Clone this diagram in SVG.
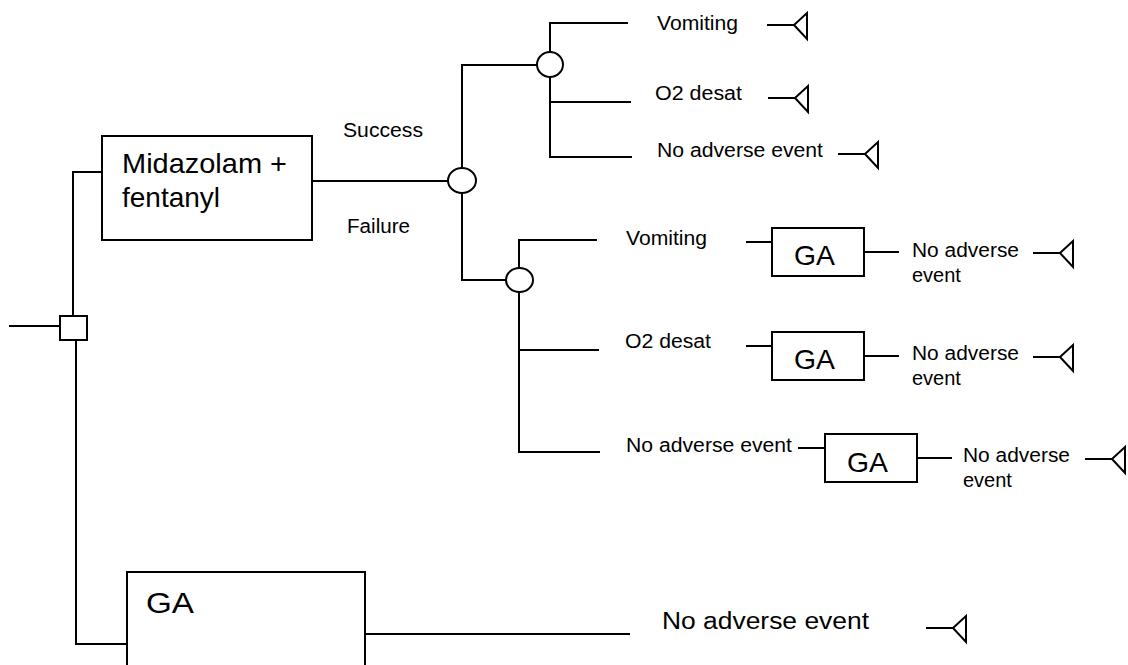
<svg xmlns="http://www.w3.org/2000/svg" xmlns:xlink="http://www.w3.org/1999/xlink" width="1128" height="665" viewBox="0 0 1128 665">
<style>
  .ln{stroke:#000;stroke-width:2;fill:none}
  .bx{stroke:#000;stroke-width:2;fill:#fff}
  .t{font-family:"Liberation Sans",Arial,Helvetica,sans-serif;fill:#000}
  .s{font-size:20px}
  .m{font-size:28px}
</style>
<defs>
  <g id="term"><path class="ln" d="M0 0 H27 M27 0 L40 -12 L40 14 Z"/></g>
</defs>
<rect width="1128" height="665" fill="#fff"/>
<g id="connectors">
  <path class="ln" d="M9 326 H60"/>
  <path class="ln" d="M73 316 V172 H102"/>
  <path class="ln" d="M76 340 V644 H127"/>
  <path class="ln" d="M312 181 H448"/>
  <path class="ln" d="M462 168 V65 H537"/>
  <path class="ln" d="M462 193 V280 H506"/>
  <path class="ln" d="M550 52 V23 H628"/>
  <path class="ln" d="M550 77 V157 H632 M550 102 H631"/>
  <path class="ln" d="M519 268 V240 H597"/>
  <path class="ln" d="M519 292 V452 H600 M519 350 H599"/>
  <path class="ln" d="M746 242 H772 M864 252 H899"/>
  <path class="ln" d="M746 346 H772 M864 356 H899"/>
  <path class="ln" d="M798 448 H825 M917 458 H952"/>
  <path class="ln" d="M365 634 H630"/>
</g>
<g id="decision">
  <rect class="bx" x="60" y="316" width="27" height="24"/>
</g>
<g id="midazolam">
  <rect class="bx" x="102" y="136" width="210" height="104"/>
  <text class="t m" x="122" y="173" textLength="165" lengthAdjust="spacingAndGlyphs">Midazolam +</text>
  <text class="t m" x="122" y="207">fentanyl</text>
</g>
<g id="label-success"><text class="t s" x="343" y="137" textLength="80" lengthAdjust="spacingAndGlyphs">Success</text></g>
<g id="label-failure"><text class="t s" x="347" y="233" textLength="63" lengthAdjust="spacingAndGlyphs">Failure</text></g>
<g id="chance-main"><ellipse class="bx" cx="462" cy="180.5" rx="14" ry="12.5"/></g>
<g id="chance-success"><ellipse class="bx" cx="550" cy="64.5" rx="13" ry="12.5"/></g>
<g id="chance-failure"><ellipse class="bx" cx="519.5" cy="280" rx="13.5" ry="12"/></g>
<g id="s-vomiting">
  <text class="t s" x="657" y="30" textLength="81" lengthAdjust="spacingAndGlyphs">Vomiting</text>
  <use xlink:href="#term" x="767" y="25"/>
</g>
<g id="s-o2">
  <text class="t s" x="655" y="100" textLength="87" lengthAdjust="spacingAndGlyphs">O2 desat</text>
  <use xlink:href="#term" x="768" y="98"/>
</g>
<g id="s-none">
  <text class="t s" x="657" y="157" textLength="166" lengthAdjust="spacingAndGlyphs">No adverse event</text>
  <use xlink:href="#term" x="838" y="154"/>
</g>
<g id="f-vomiting">
  <text class="t s" x="626" y="245" textLength="81" lengthAdjust="spacingAndGlyphs">Vomiting</text>
  <rect class="bx" x="772" y="228" width="92" height="48"/>
  <text class="t m" x="794" y="265" textLength="41" lengthAdjust="spacingAndGlyphs">GA</text>
  <text class="t s" x="912" y="257" textLength="107" lengthAdjust="spacingAndGlyphs">No adverse</text>
  <text class="t s" x="912" y="282">event</text>
  <use xlink:href="#term" x="1033" y="253"/>
</g>
<g id="f-o2">
  <text class="t s" x="625" y="348" textLength="86" lengthAdjust="spacingAndGlyphs">O2 desat</text>
  <rect class="bx" x="772" y="332" width="92" height="48"/>
  <text class="t m" x="794" y="369" textLength="41" lengthAdjust="spacingAndGlyphs">GA</text>
  <text class="t s" x="912" y="360" textLength="107" lengthAdjust="spacingAndGlyphs">No adverse</text>
  <text class="t s" x="912" y="385">event</text>
  <use xlink:href="#term" x="1033" y="357"/>
</g>
<g id="f-none">
  <text class="t s" x="626" y="452" textLength="166" lengthAdjust="spacingAndGlyphs">No adverse event</text>
  <rect class="bx" x="825" y="434" width="92" height="48"/>
  <text class="t m" x="847" y="472" textLength="41" lengthAdjust="spacingAndGlyphs">GA</text>
  <text class="t s" x="963" y="462" textLength="107" lengthAdjust="spacingAndGlyphs">No adverse</text>
  <text class="t s" x="963" y="487">event</text>
  <use xlink:href="#term" x="1085" y="459"/>
</g>
<g id="ga-main">
  <rect class="bx" x="127" y="572" width="238" height="110"/>
  <text class="t" x="146" y="613" font-size="29" textLength="48" lengthAdjust="spacingAndGlyphs">GA</text>
</g>
<g id="ga-outcome">
  <text class="t" x="662" y="629" font-size="23" textLength="207" lengthAdjust="spacingAndGlyphs">No adverse event</text>
  <use xlink:href="#term" x="926" y="628"/>
</g>
</svg>
